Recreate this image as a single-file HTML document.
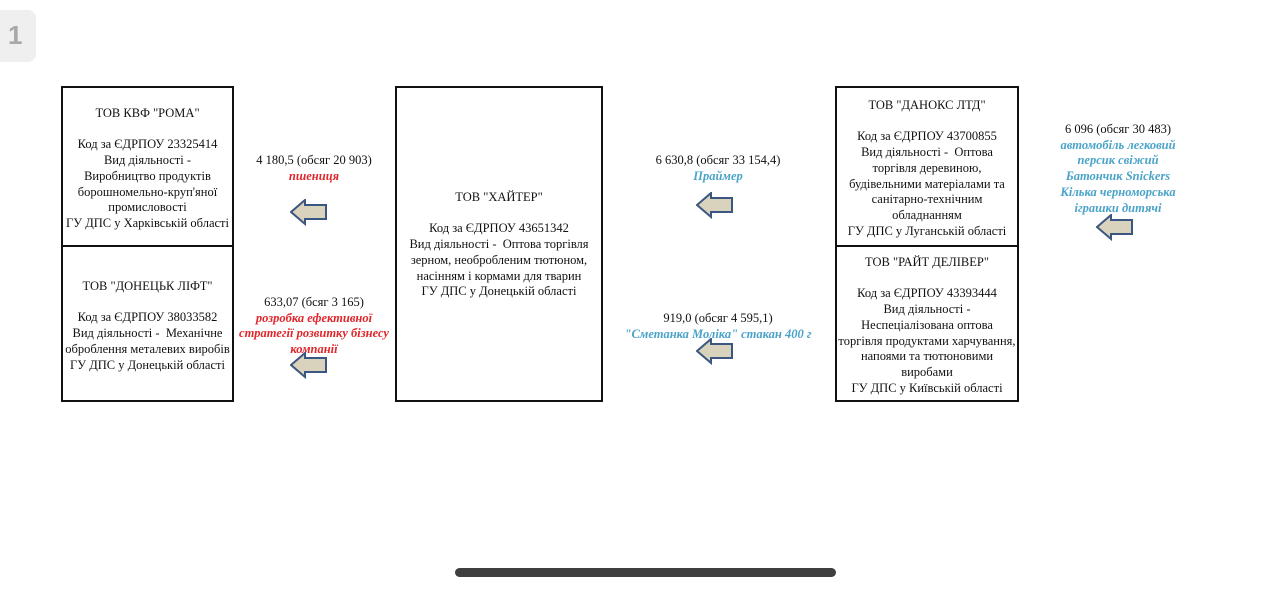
<!DOCTYPE html>
<html><head><meta charset="utf-8"><style>
body{margin:0;width:1280px;height:590px;background:#fff;position:relative;overflow:hidden;font-family:"Liberation Serif",serif;}
.box{position:absolute;border:2px solid #111;box-sizing:border-box;}
.t{position:absolute;text-align:center;font-size:12.5px;line-height:15.7px;color:#111;white-space:nowrap;}
.red{color:#e0262b;font-style:italic;font-weight:bold;}
.blue{color:#4aa3c8;font-style:italic;font-weight:bold;}
.hl{position:absolute;height:2px;background:#111;}
svg.a{position:absolute;}
</style></head><body>
<div style="position:absolute;left:-6px;top:10px;width:42px;height:52px;background:#efefef;border-radius:8px;"></div>
<div style="position:absolute;left:8px;top:20px;font-family:'Liberation Sans',sans-serif;font-size:26px;font-weight:bold;color:#a8a8a8;">1</div>

<div class="box" style="left:61px;top:86px;width:173px;height:316px;"></div>
<div class="hl" style="left:61px;top:245px;width:173px;"></div>
<div class="box" style="left:395px;top:86px;width:208px;height:316px;"></div>
<div class="box" style="left:835px;top:86px;width:184px;height:316px;"></div>
<div class="hl" style="left:835px;top:245px;width:184px;"></div>

<div class="t" style="left:62px;width:171px;top:106px;">ТОВ КВФ "РОМА"<br><br>Код за ЄДРПОУ 23325414<br>Вид діяльності -<br>Виробництво продуктів<br>борошномельно-круп'яної<br>промисловості<br>ГУ ДПС у Харківській області</div>
<div class="t" style="left:62px;width:171px;top:279px;">ТОВ "ДОНЕЦЬК ЛІФТ"<br><br>Код за ЄДРПОУ 38033582<br>Вид діяльності -&nbsp; Механічне<br>оброблення металевих виробів<br>ГУ ДПС у Донецькій області</div>

<div class="t" style="left:396px;width:206px;top:190px;">ТОВ "ХАЙТЕР"<br><br>Код за ЄДРПОУ 43651342<br>Вид діяльності -&nbsp; Оптова торгівля<br>зерном, необробленим тютюном,<br>насінням і кормами для тварин<br>ГУ ДПС у Донецькій області</div>

<div class="t" style="left:836px;width:182px;top:98px;">ТОВ "ДАНОКС ЛТД"<br><br>Код за ЄДРПОУ 43700855<br>Вид діяльності -&nbsp; Оптова<br>торгівля деревиною,<br>будівельними матеріалами та<br>санітарно-технічним<br>обладнанням<br>ГУ ДПС у Луганській області</div>
<div class="t" style="left:836px;width:182px;top:255px;">ТОВ "РАЙТ ДЕЛІВЕР"<br><br>Код за ЄДРПОУ 43393444<br>Вид діяльності -<br>Неспеціалізована оптова<br>торгівля продуктами харчування,<br>напоями та тютюновими<br>виробами<br>ГУ ДПС у Київській області</div>

<div class="t" style="left:214px;width:200px;top:153px;">4 180,5 (обсяг 20 903)<br><span class="red">пшениця</span></div>
<div class="t" style="left:214px;width:200px;top:295px;">633,07 (бсяг 3 165)<br><span class="red">розробка ефективної<br>стратегії розвитку бізнесу<br>компанії</span></div>
<div class="t" style="left:618px;width:200px;top:153px;">6 630,8 (обсяг 33 154,4)<br><span class="blue">Праймер</span></div>
<div class="t" style="left:598px;width:240px;top:311px;">919,0 (обсяг 4 595,1)<br><span class="blue">"Сметанка Моліка" стакан 400 г</span></div>
<div class="t" style="left:1018px;width:200px;top:122px;">6 096 (обсяг 30 483)<br><span class="blue">автомобіль легковий<br>персик свіжий<br>Батончик Snickers<br>Кілька черноморська<br>іграшки дитячі</span></div>

<svg class="a" style="left:290px;top:199px" width="38" height="28"><polygon points="1,13 15,1 15,6 36,6 36,20 15,20 15,25" fill="#d9d2bd" stroke="#3b5680" stroke-width="2"/></svg>
<svg class="a" style="left:290px;top:352px" width="38" height="28"><polygon points="1,13 15,1 15,6 36,6 36,20 15,20 15,25" fill="#d9d2bd" stroke="#3b5680" stroke-width="2"/></svg>
<svg class="a" style="left:696px;top:192px" width="38" height="28"><polygon points="1,13 15,1 15,6 36,6 36,20 15,20 15,25" fill="#d9d2bd" stroke="#3b5680" stroke-width="2"/></svg>
<svg class="a" style="left:696px;top:338px" width="38" height="28"><polygon points="1,13 15,1 15,6 36,6 36,20 15,20 15,25" fill="#d9d2bd" stroke="#3b5680" stroke-width="2"/></svg>
<svg class="a" style="left:1096px;top:214px" width="38" height="28"><polygon points="1,13 15,1 15,6 36,6 36,20 15,20 15,25" fill="#d9d2bd" stroke="#3b5680" stroke-width="2"/></svg>

<div style="position:absolute;left:455px;top:568px;width:381px;height:9px;border-radius:5px;background:#3f3f3f;"></div>
</body></html>
